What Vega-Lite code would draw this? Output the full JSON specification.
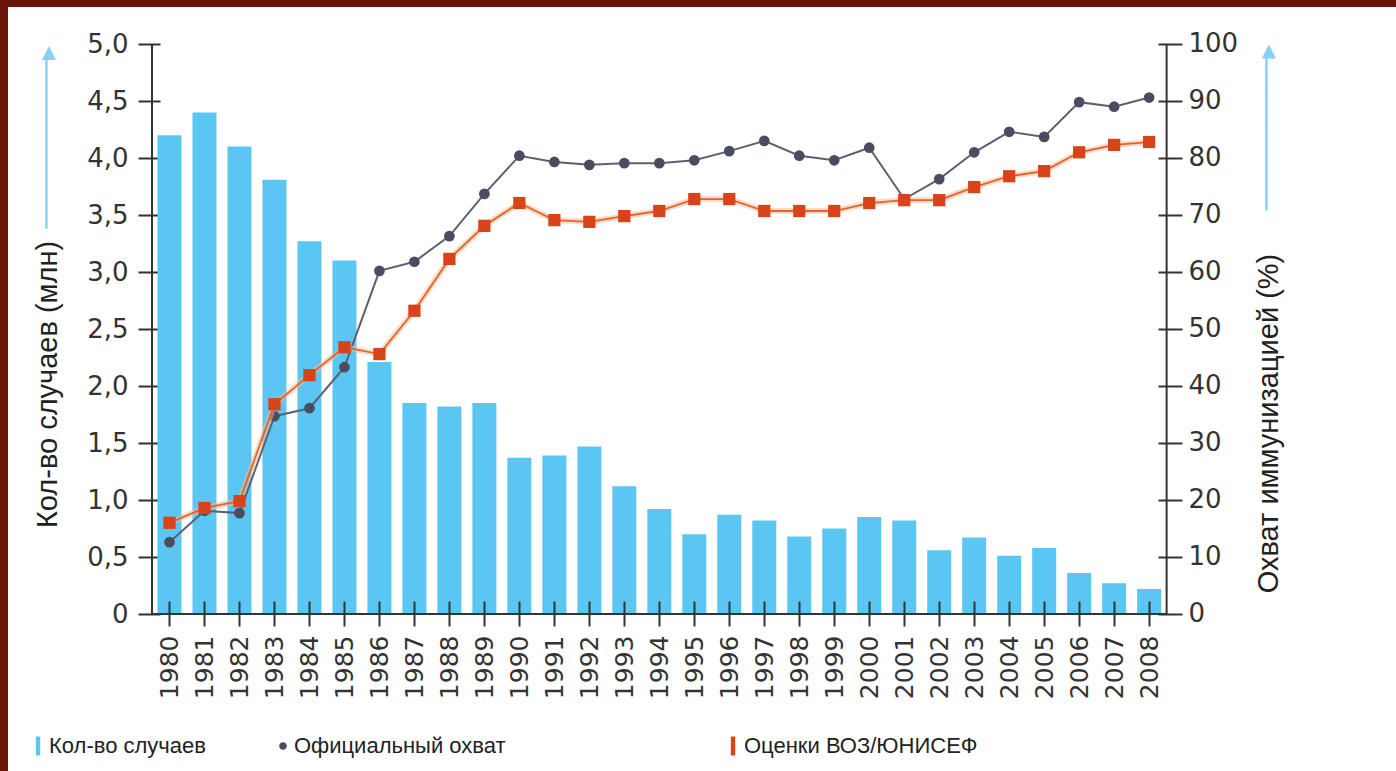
{
  "$schema": "https://vega.github.io/schema/vega-lite/v6.json",
  "width": 1388,
  "height": 764,
  "autosize": {"type": "none"},
  "padding": {"left": 8, "top": 7, "right": 0, "bottom": 0},
  "background": "#6c1407",
  "config": {"view": {"fill": "white", "stroke": null}, "font": "DejaVu Sans"},
  "title": {
    "text": "─────────▸",
    "angle": 270,
    "align": "left",
    "baseline": "middle",
    "anchor": "start",
    "frame": "group",
    "orient": "top",
    "offset": 0,
    "dx": -369,
    "dy": 1260,
    "color": "#86d2f0",
    "fontSize": 28,
    "font": "DejaVu Sans",
    "fontWeight": "normal"
  },
  "data": {
    "values": [
      {"year": 1980, "cases": 4.20, "official": 12.6, "who": 16.0},
      {"year": 1981, "cases": 4.40, "official": 18.1, "who": 18.6},
      {"year": 1982, "cases": 4.10, "official": 17.7, "who": 19.8},
      {"year": 1983, "cases": 3.81, "official": 34.7, "who": 36.8},
      {"year": 1984, "cases": 3.27, "official": 36.1, "who": 41.9},
      {"year": 1985, "cases": 3.10, "official": 43.3, "who": 46.8},
      {"year": 1986, "cases": 2.21, "official": 60.2, "who": 45.6},
      {"year": 1987, "cases": 1.85, "official": 61.8, "who": 53.2},
      {"year": 1988, "cases": 1.82, "official": 66.3, "who": 62.3},
      {"year": 1989, "cases": 1.85, "official": 73.7, "who": 68.1},
      {"year": 1990, "cases": 1.37, "official": 80.4, "who": 72.1},
      {"year": 1991, "cases": 1.39, "official": 79.3, "who": 69.1},
      {"year": 1992, "cases": 1.47, "official": 78.8, "who": 68.8},
      {"year": 1993, "cases": 1.12, "official": 79.1, "who": 69.8},
      {"year": 1994, "cases": 0.92, "official": 79.1, "who": 70.7},
      {"year": 1995, "cases": 0.70, "official": 79.6, "who": 72.8},
      {"year": 1996, "cases": 0.87, "official": 81.2, "who": 72.8},
      {"year": 1997, "cases": 0.82, "official": 83.0, "who": 70.7},
      {"year": 1998, "cases": 0.68, "official": 80.4, "who": 70.7},
      {"year": 1999, "cases": 0.75, "official": 79.6, "who": 70.7},
      {"year": 2000, "cases": 0.85, "official": 81.8, "who": 72.1},
      {"year": 2001, "cases": 0.82, "official": 72.8, "who": 72.6},
      {"year": 2002, "cases": 0.56, "official": 76.3, "who": 72.6},
      {"year": 2003, "cases": 0.67, "official": 81.0, "who": 74.9},
      {"year": 2004, "cases": 0.51, "official": 84.6, "who": 76.8},
      {"year": 2005, "cases": 0.58, "official": 83.7, "who": 77.7},
      {"year": 2006, "cases": 0.36, "official": 89.8, "who": 81.0},
      {"year": 2007, "cases": 0.27, "official": 89.0, "who": 82.3},
      {"year": 2008, "cases": 0.22, "official": 90.6, "who": 82.8}
    ]
  },
  "layer": [
    {
      "layer": [
        {
          "mark": {"type": "bar", "width": 24},
          "encoding": {
            "x": {
              "field": "year",
              "type": "quantitative",
              "scale": {"domain": [1975.527, 2014.913], "nice": false, "zero": false},
              "axis": {
                "values": [1980,1981,1982,1983,1984,1985,1986,1987,1988,1989,1990,1991,1992,1993,1994,1995,1996,1997,1998,1999,2000,2001,2002,2003,2004,2005,2006,2007,2008],
                "format": "d",
                "labelAngle": 270,
                "labelFont": "DejaVu Sans",
                "labelFontSize": 25,
                "labelColor": "#333333",
                "labelPadding": 9,
                "labelFlush": false,
                "labelOverlap": false,
                "domain": false,
                "grid": false,
                "ticks": true,
                "tickSize": 25,
                "tickWidth": 2,
                "tickColor": "#333333",
                "offset": -170,
                "zindex": 1,
                "title": "──────────▸",
                "titleAngle": 270,
                "titleAlign": "left",
                "titleBaseline": "middle",
                "titleX": 39,
                "titleY": -373,
                "titleColor": "#86d2f0",
                "titleFont": "DejaVu Sans",
                "titleFontSize": 28,
                "titleFontWeight": "normal"
              }
            },
            "y": {
              "field": "cases",
              "type": "quantitative",
              "scale": {"domain": [-1.3772, 5.3246], "nice": false, "zero": false},
              "axis": {
                "orient": "left",
                "values": [0, 0.5, 1, 1.5, 2, 2.5, 3, 3.5, 4, 4.5, 5],
                "labelExpr": "datum.value == 0 ? '0' : replace(format(datum.value, '.1f'), '.', ',')",
                "labelFont": "DejaVu Sans",
                "labelFontSize": 26,
                "labelColor": "#333333",
                "labelPadding": 10,
                "labelFlush": false,
                "labelOverlap": false,
                "domain": false,
                "grid": false,
                "tickSize": 22,
                "tickWidth": 2,
                "tickColor": "#333333",
                "offset": -152,
                "title": "Кол-во случаев (млн)",
                "titleFont": "Liberation Sans",
                "titleFontSize": 29,
                "titleFontWeight": "normal",
                "titleColor": "#222222",
                "titleAngle": 270,
                "titleAlign": "center",
                "titleBaseline": "middle",
                "titleX": -113,
                "titleY": 377
              }
            },
            "y2": {"datum": 0},
            "color": {
              "datum": "Кол-во случаев",
              "type": "nominal",
              "scale": {
                "domain": ["Кол-во случаев", "Официальный охват", "Оценки ВОЗ/ЮНИСЕФ"],
                "range": ["#5cc6f2", "#4a4c60", "#d9431a"]
              },
              "legend": {
                "title": null,
                "orient": "none",
                "legendX": 19,
                "legendY": 728,
                "direction": "horizontal",
                "padding": 0,
                "symbolSize": 400,
                "symbolStrokeWidth": 0,
                "labelFont": "Liberation Sans",
                "labelFontSize": 22,
                "labelColor": "#222222",
                "labelOffset": 0,
                "labelLimit": 1000,
                "columnPadding": 66,
                "labelExpr": "datum.label == 'Официальный охват' ? datum.label + '\u00a0\u2800\u2800\u2800\u2800\u2800\u2800\u2800\u2800\u2800' : datum.label",
                "encode": {
                  "symbols": {
                    "update": {
                      "shape": {"signal": "datum.value == 'Официальный охват' ? 'M0,-0.38A0.38,0.38 0 1 1 0,0.38A0.38,0.38 0 1 1 0,-0.38Z' : 'M-0.22,-0.95L0.22,-0.95L0.22,0.95L-0.22,0.95Z'"}
                    }
                  }
                }
              }
            }
          }
        },
        {
          "data": {"values": [{}]},
          "mark": {"type": "rule", "color": "#333333", "strokeWidth": 2},
          "encoding": {
            "x": {"datum": 1979.5, "type": "quantitative", "scale": {"domain": [1975.527, 2014.913], "nice": false, "zero": false}},
            "y": {"datum": 0, "type": "quantitative", "scale": {"domain": [-1.3772, 5.3246], "nice": false, "zero": false}},
            "y2": {"datum": 5}
          }
        },
        {
          "data": {"values": [{}]},
          "mark": {"type": "rule", "color": "#333333", "strokeWidth": 2},
          "encoding": {
            "x": {"datum": 1979.5, "type": "quantitative", "scale": {"domain": [1975.527, 2014.913], "nice": false, "zero": false}},
            "x2": {"datum": 2008.5},
            "y": {"datum": 0, "type": "quantitative", "scale": {"domain": [-1.3772, 5.3246], "nice": false, "zero": false}}
          }
        }
      ]
    },
    {
      "layer": [
        {
          "mark": {"type": "line", "color": "#5d6072", "strokeWidth": 2},
          "encoding": {
            "x": {"field": "year", "type": "quantitative", "scale": {"domain": [1975.527, 2014.913], "nice": false, "zero": false}},
            "y": {
              "field": "official",
              "type": "quantitative",
              "scale": {"domain": [-27.544, 106.491], "nice": false, "zero": false},
              "axis": {
                "orient": "right",
                "values": [0, 10, 20, 30, 40, 50, 60, 70, 80, 90, 100],
                "format": "d",
                "labelFont": "DejaVu Sans",
                "labelFontSize": 26,
                "labelColor": "#333333",
                "labelPadding": 6,
                "labelFlush": false,
                "labelOverlap": false,
                "domain": false,
                "grid": false,
                "tickSize": 24,
                "tickWidth": 2,
                "tickColor": "#333333",
                "offset": -238,
                "title": "Охват иммунизацией (%)",
                "titleFont": "Liberation Sans",
                "titleFontSize": 29,
                "titleFontWeight": "normal",
                "titleColor": "#222222",
                "titleAngle": 270,
                "titleAlign": "center",
                "titleBaseline": "middle",
                "titleX": 110,
                "titleY": 416
              }
            }
          }
        },
        {
          "mark": {"type": "point", "filled": true, "shape": "circle", "size": 115, "opacity": 1},
          "encoding": {
            "x": {"field": "year", "type": "quantitative", "scale": {"domain": [1975.527, 2014.913], "nice": false, "zero": false}},
            "y": {"field": "official", "type": "quantitative", "scale": {"domain": [-27.544, 106.491], "nice": false, "zero": false}},
            "color": {"datum": "Официальный охват", "type": "nominal"}
          }
        },
        {
          "mark": {"type": "line", "color": "#f6b892", "strokeWidth": 6, "opacity": 0.5},
          "encoding": {
            "x": {"field": "year", "type": "quantitative", "scale": {"domain": [1975.527, 2014.913], "nice": false, "zero": false}},
            "y": {"field": "who", "type": "quantitative", "scale": {"domain": [-27.544, 106.491], "nice": false, "zero": false}}
          }
        },
        {
          "mark": {"type": "line", "color": "#e2642a", "strokeWidth": 1.8},
          "encoding": {
            "x": {"field": "year", "type": "quantitative", "scale": {"domain": [1975.527, 2014.913], "nice": false, "zero": false}},
            "y": {"field": "who", "type": "quantitative", "scale": {"domain": [-27.544, 106.491], "nice": false, "zero": false}}
          }
        },
        {
          "mark": {"type": "point", "filled": true, "shape": "square", "size": 150, "opacity": 1},
          "encoding": {
            "x": {"field": "year", "type": "quantitative", "scale": {"domain": [1975.527, 2014.913], "nice": false, "zero": false}},
            "y": {"field": "who", "type": "quantitative", "scale": {"domain": [-27.544, 106.491], "nice": false, "zero": false}},
            "color": {"datum": "Оценки ВОЗ/ЮНИСЕФ", "type": "nominal"}
          }
        },
        {
          "data": {"values": [{}]},
          "mark": {"type": "rule", "color": "#333333", "strokeWidth": 2},
          "encoding": {
            "x": {"datum": 2008.5, "type": "quantitative", "scale": {"domain": [1975.527, 2014.913], "nice": false, "zero": false}},
            "y": {"datum": 0, "type": "quantitative", "scale": {"domain": [-27.544, 106.491], "nice": false, "zero": false}},
            "y2": {"datum": 100}
          }
        }
      ]
    }
  ],
  "resolve": {"scale": {"y": "independent"}}
}
